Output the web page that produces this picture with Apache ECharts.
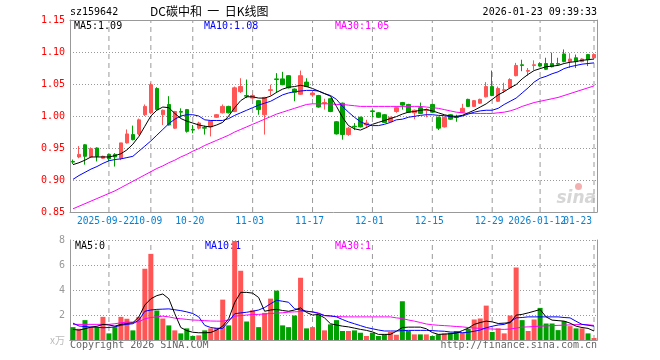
<!DOCTYPE html>
<html><head><meta charset="utf-8">
<script src="https://cdn.jsdelivr.net/npm/echarts@6/dist/echarts.min.js"></script>
<style>html,body{margin:0;padding:0;background:#fff}#c{width:660px;height:360px}</style>
</head><body><div id="c"></div>
<script>
// ---- data ----
const dates = ['2025-09-12','2025-09-15','2025-09-16','2025-09-17','2025-09-18','2025-09-19','2025-09-22','2025-09-23','2025-09-24','2025-09-25','2025-09-26','2025-09-29','2025-09-30',
'2025-10-09','2025-10-10','2025-10-13','2025-10-14','2025-10-15','2025-10-16','2025-10-17','2025-10-20','2025-10-21','2025-10-22','2025-10-23','2025-10-24','2025-10-27','2025-10-28','2025-10-29','2025-10-30','2025-10-31',
'2025-11-03','2025-11-04','2025-11-05','2025-11-06','2025-11-07','2025-11-10','2025-11-11','2025-11-12','2025-11-13','2025-11-14','2025-11-17','2025-11-18','2025-11-19','2025-11-20','2025-11-21','2025-11-24','2025-11-25','2025-11-26','2025-11-27','2025-11-28',
'2025-12-01','2025-12-02','2025-12-03','2025-12-04','2025-12-05','2025-12-08','2025-12-09','2025-12-10','2025-12-11','2025-12-12','2025-12-15','2025-12-16','2025-12-17','2025-12-18','2025-12-19','2025-12-22','2025-12-23','2025-12-24','2025-12-25','2025-12-26','2025-12-29','2025-12-30','2025-12-31',
'2026-01-05','2026-01-06','2026-01-07','2026-01-08','2026-01-09','2026-01-12','2026-01-13','2026-01-14','2026-01-15','2026-01-16','2026-01-19','2026-01-20','2026-01-21','2026-01-22','2026-01-23'];

const opens  = [0.929,0.936,0.955,0.936,0.950,0.934,0.940,0.940,0.934,0.958,0.971,0.972,1.002,1.005,1.043,1.002,1.018,0.981,1.007,1.010,0.979,0.981,0.982,0.983,0.998,1.005,1.015,1.007,1.038,1.032,
1.028,1.024,1.002,1.040,1.058,1.058,1.063,1.042,1.034,1.053,1.033,1.032,1.020,1.027,0.991,1.020,0.971,0.984,0.998,0.986,
1.008,1.005,1.002,0.991,1.007,1.021,1.018,1.005,1.013,1.009,1.018,0.998,0.983,1.002,0.999,1.006,1.026,1.015,1.020,1.030,1.046,1.023,1.040,
1.044,1.063,1.080,1.070,1.079,1.082,1.082,1.082,1.082,1.097,1.085,1.091,1.085,1.096,1.091];
const closes = [0.928,0.940,0.937,0.949,0.937,0.937,0.933,0.936,0.958,0.972,0.963,0.994,1.015,1.049,1.010,1.009,0.986,1.007,1.006,0.976,0.978,0.989,0.981,0.992,1.002,1.015,1.005,1.044,1.046,1.031,
1.032,1.010,1.029,1.041,1.057,1.049,1.044,1.037,1.063,1.046,1.036,1.014,1.021,1.007,0.972,0.971,0.981,0.983,0.983,0.989,
1.007,0.998,0.990,0.998,1.013,1.017,1.006,1.009,1.004,1.010,1.006,0.981,0.998,0.995,0.998,1.012,1.015,1.024,1.026,1.046,1.032,1.043,1.041,
1.057,1.079,1.079,1.071,1.080,1.078,1.073,1.077,1.081,1.085,1.089,1.085,1.089,1.088,1.096];
const lows   = [0.925,0.934,0.924,0.935,0.929,0.933,0.929,0.921,0.931,0.957,0.962,0.970,1.000,1.003,1.009,0.986,0.985,0.980,0.997,0.974,0.973,0.979,0.971,0.968,0.997,1.004,1.004,1.006,1.036,1.028,
1.027,1.002,0.971,1.032,1.036,1.048,1.043,1.023,1.033,1.045,1.030,1.013,1.010,1.006,0.971,0.963,0.969,0.978,0.982,0.981,
0.998,0.997,0.989,0.990,1.005,1.010,1.005,0.995,1.003,0.998,1.005,0.978,0.982,0.994,0.991,1.005,1.014,1.014,1.019,1.029,1.031,1.022,1.036,
1.043,1.062,1.070,1.063,1.072,1.077,1.072,1.076,1.079,1.084,1.075,1.075,1.084,1.078,1.090];
const highs  = [0.932,0.953,0.956,0.951,0.951,0.938,0.941,0.942,0.958,0.979,0.985,0.996,1.018,1.052,1.045,1.010,1.031,1.008,1.012,1.011,0.986,0.991,0.985,0.993,1.003,1.018,1.016,1.046,1.059,1.057,
1.034,1.025,1.030,1.049,1.067,1.069,1.064,1.043,1.071,1.059,1.039,1.033,1.027,1.028,0.992,1.021,0.983,0.989,0.999,0.994,
1.010,1.006,1.003,0.999,1.015,1.022,1.019,1.010,1.021,1.012,1.019,0.999,0.999,1.003,1.002,1.019,1.027,1.025,1.027,1.053,1.071,1.046,1.052,
1.059,1.083,1.088,1.075,1.087,1.084,1.091,1.099,1.091,1.104,1.098,1.096,1.090,1.097,1.098];

const ma5  = [0.924,0.927,0.931,0.936,0.936,0.936,0.936,0.938,0.941,0.947,0.956,0.968,0.984,1.000,1.009,1.014,1.013,1.004,0.996,0.992,0.989,0.986,0.984,0.983,0.986,0.990,1.000,1.013,1.024,1.030,
1.030,1.028,1.028,1.031,1.037,1.042,1.045,1.046,1.048,1.046,1.043,1.039,1.035,1.031,1.015,0.998,0.985,0.980,0.978,0.982,
0.987,0.990,0.993,0.996,0.999,1.003,1.006,1.007,1.009,1.010,1.008,1.005,1.002,1.000,0.9995,1.001,1.005,1.009,1.014,1.019,1.026,1.033,1.038,
1.044,1.049,1.058,1.065,1.071,1.074,1.077,1.078,1.079,1.082,1.084,1.085,1.087,1.088,1.089];
const ma10 = [0.901,0.907,0.912,0.917,0.921,0.926,0.930,0.932,0.933,0.935,0.937,0.945,0.953,0.961,0.970,0.979,0.988,0.995,1.000,1.002,1.002,1.000,0.994,0.993,0.993,0.993,0.996,1.001,1.005,1.009,
1.013,1.017,1.020,1.023,1.028,1.033,1.036,1.038,1.039,1.040,1.040,1.039,1.035,1.032,1.026,1.015,1.006,0.998,0.991,0.987,
0.985,0.985,0.987,0.990,0.994,0.995,0.998,0.9995,1.001,1.002,1.002,1.001,1.0005,0.999,0.998,1.000,1.003,1.006,1.008,1.009,1.009,1.012,1.018,
1.023,1.028,1.036,1.044,1.053,1.059,1.062,1.066,1.069,1.074,1.077,1.079,1.081,1.082,1.083];
const ma30 = [0.855,0.859,0.863,0.867,0.871,0.875,0.879,0.883,0.888,0.893,0.898,0.903,0.908,0.913,0.918,0.922,0.927,0.931,0.936,0.940,0.945,0.949,0.954,0.958,0.962,0.966,0.970,0.975,0.979,0.983,
0.987,0.991,0.995,0.999,1.003,1.006,1.009,1.012,1.015,1.018,1.019,1.019,1.019,1.019,1.018,1.018,1.017,1.016,1.015,1.015,
1.015,1.015,1.015,1.015,1.015,1.015,1.015,1.015,1.015,1.014,1.013,1.012,1.010,1.008,1.006,1.005,1.004,1.004,1.004,1.004,1.004,1.005,1.006,
1.008,1.011,1.015,1.018,1.021,1.023,1.025,1.027,1.029,1.032,1.035,1.038,1.041,1.044,1.047];

const volumes = [1.03,0.90,1.59,1.03,1.03,1.85,0.53,1.03,1.85,1.70,0.77,1.85,5.70,6.89,2.36,1.72,1.17,0.77,0.53,0.93,0.32,0.37,0.77,0.93,0.98,3.23,1.17,7.92,5.54,1.48,
2.38,1.03,2.17,3.31,3.95,1.17,1.03,1.96,4.98,0.93,1.03,2.04,0.77,1.25,1.59,0.72,0.72,0.77,0.58,0.32,
0.58,0.32,0.45,0.64,0.42,3.10,0.72,0.45,0.45,0.45,0.32,0.45,0.53,0.58,0.72,0.58,0.90,1.64,1.72,2.75,0.64,0.93,0.53,
1.96,5.80,1.59,0.72,1.64,2.57,1.32,1.32,0.79,1.51,1.11,0.93,0.93,0.53,0.16];
const volMa5  = [0.85,0.79,0.90,1.03,1.10,1.25,1.20,1.11,1.25,1.32,1.38,1.85,2.80,3.30,3.55,3.68,3.30,2.10,1.00,0.75,0.62,0.58,0.58,0.60,0.80,1.11,1.70,3.00,3.81,3.81,
3.75,3.40,2.30,2.40,2.45,2.36,2.30,2.40,2.57,2.20,2.00,2.04,1.77,1.30,1.20,1.11,1.05,0.95,0.85,0.77,
0.65,0.45,0.45,0.45,0.70,1.00,1.03,1.03,1.03,0.90,0.60,0.45,0.47,0.50,0.55,0.75,0.95,1.25,1.40,1.51,1.45,1.32,1.35,
1.38,1.99,2.05,2.17,2.30,2.44,1.85,1.59,1.55,1.51,1.35,1.11,1.00,0.93,0.72];
const volMa10 = [1.35,1.12,1.08,1.04,1.02,0.98,1.00,1.05,1.18,1.25,1.30,1.60,2.30,2.40,2.45,2.47,2.49,2.42,2.35,2.25,2.12,1.85,1.17,1.00,0.93,0.93,1.50,2.10,2.17,2.22,
2.30,2.40,2.60,2.90,3.18,3.10,3.02,2.50,2.40,2.30,2.25,2.12,1.96,1.93,1.85,1.64,1.45,1.30,1.15,1.00,
0.90,0.80,0.72,0.72,0.72,0.75,0.77,0.77,0.77,0.77,0.75,0.72,0.70,0.64,0.62,0.58,0.62,0.70,0.80,0.98,1.10,1.20,1.25,
1.45,1.77,1.80,1.85,1.85,1.85,1.85,1.85,1.85,1.80,1.77,1.50,1.25,1.18,1.11];
const volMa30 = [1.25,1.25,1.25,1.25,1.25,1.25,1.25,1.30,1.38,1.43,1.43,1.45,1.70,1.80,1.85,1.91,1.85,1.75,1.70,1.65,1.60,1.58,1.55,1.52,1.51,1.51,1.60,1.91,1.95,2.00,
2.04,2.05,2.08,2.12,2.15,2.18,2.23,2.25,2.28,2.30,2.25,2.17,1.95,1.91,1.88,1.86,1.85,1.85,1.85,1.85,
1.85,1.85,1.85,1.85,1.77,1.72,1.60,1.51,1.40,1.28,1.22,1.18,1.15,1.12,1.08,1.05,1.00,0.96,0.93,0.90,0.88,0.86,0.85,
0.88,0.95,1.03,1.05,1.08,1.11,1.13,1.15,1.17,1.19,1.21,1.23,1.25,1.22,1.17];

const labelDates = ['2025-09-22','2025-10-09','2025-10-20','2025-11-03','2025-11-17','2025-12-01','2025-12-15','2025-12-29','2026-01-12','2026-01-23'];
const labelTexts = ['2025-09-22','10-09','10-20','11-03','11-17','12-01','12-15','12-29','2026-01-12','01-23'];
const priceTicks = {min: 0.85, max: 1.15, step: 0.05};
const volTicks = {min: 0, max: 8, step: 2};

const titleCode = 'sz159642';
const titleName = 'DC碳中和  一  日K线图';
const timeStamp = '2026-01-23 09:39:33';
const maLegend = ['MA5:1.09', 'MA10:1.08', 'MA30:1.05'];
const volLegend = ['MA5:0', 'MA10:1', 'MA30:1'];
const copyrightText = 'Copyright 2026 SINA.COM';
const urlText = 'http://finance.sina.com.cn';
const volUnit = 'x万';

// ---- style ----
const UP = '#ff5555', DOWN = '#00a000';
const C5 = '#000000', C10 = '#0000ff', C30 = '#ff00ff';
const MONO = 'DejaVu Sans Mono';
const FRAME = '#999999';
const GUIDE = '#9a9a9a';

const labelPos = (idx) => labelDates.indexOf(dates[idx]);
const inSet = (idx, parity) => { const k = labelPos(idx); return k >= 0 && k % 2 === parity; };
const hSplit = () => ({show: true, lineStyle: {color: '#999999', type: [1, 2], width: 1}});
const frameLine = () => ({show: true, lineStyle: {color: FRAME, width: 1}});
const labelFont = {color: '#0a80d0', fontFamily: MONO, fontSize: 9.6};
const xLabel = (parity) => Object.assign({
  interval: (idx) => inSet(idx, parity), margin: 4, showMinLabel: parity === 0 ? true : null,
  showMaxLabel: parity === 1 ? true : null, hideOverlap: false, alignMaxLabel: parity === 1 ? 'right' : null,
  formatter: (v) => { const k = labelDates.indexOf(v); const t = labelTexts[k];
    return k === labelDates.length - 1 ? '{e|' + t + '}' : '{n|' + t + '}'; },
  rich: {n: Object.assign({padding: [0, 6, 0, 0]}, labelFont), e: Object.assign({padding: [0, 2, 0, 0]}, labelFont)}
}, labelFont);

const chart = echarts.init(document.getElementById('c'), null, {renderer: 'canvas'});
const kdata = dates.map((d, i) => [opens[i], closes[i], lows[i], highs[i]]);
const lineS = (name, data, color, x, y) => ({
  name, type: 'line', data, xAxisIndex: x, yAxisIndex: y, symbol: 'none', silent: true,
  lineStyle: {color, width: 1}, itemStyle: {color}, z: 3
});
// dashed vertical date guides: one two-point line series per labelled date
const guideSeries = (x, y, ticks) => labelDates.map(d => ({
  type: 'line', xAxisIndex: x, yAxisIndex: y, symbol: 'none', silent: true, z: 1,
  data: [[d, ticks.min], [d, ticks.max]],
  lineStyle: {color: GUIDE, width: 1, type: [5, 4]}
}));

const option = {
  animation: false,
  backgroundColor: '#ffffff',
  grid: [
    {left: 70, right: 63, top: 20, height: 192},
    {left: 70, right: 63, top: 240, height: 100}
  ],
  xAxis: [
    {type: 'category', data: dates, gridIndex: 0, axisLine: frameLine(), axisTick: {show: false},
     splitLine: {show: false}, axisLabel: xLabel(0)},
    {type: 'category', data: dates, gridIndex: 0, position: 'top', axisLine: frameLine(), axisTick: {show: false}, axisLabel: {show: false}, splitLine: {show: false}},
    {type: 'category', data: dates, gridIndex: 1, axisLine: frameLine(), axisTick: {show: false}, axisLabel: {show: false}, splitLine: {show: false}},
    {type: 'category', data: dates, gridIndex: 1, position: 'top', axisLine: frameLine(), axisTick: {show: false}, axisLabel: {show: false}, splitLine: {show: false}},
    {type: 'category', data: dates, gridIndex: 0, position: 'bottom', axisLine: {show: false}, axisTick: {show: false},
     splitLine: {show: false}, axisLabel: xLabel(1)}
  ],
  yAxis: [
    {type: 'value', gridIndex: 0, min: priceTicks.min, max: priceTicks.max, interval: priceTicks.step,
     axisLine: frameLine(), axisTick: {show: false}, splitLine: hSplit(),
     axisLabel: {margin: 5, color: '#ff0000', fontFamily: MONO, fontSize: 10, formatter: v => v.toFixed(2)}},
    {type: 'value', gridIndex: 0, position: 'right', min: priceTicks.min, max: priceTicks.max, interval: priceTicks.step,
     axisLine: frameLine(), axisTick: {show: false}, splitLine: {show: false}, axisLabel: {show: false}},
    {type: 'value', gridIndex: 1, min: volTicks.min, max: volTicks.max, interval: volTicks.step,
     axisLine: frameLine(), axisTick: {show: false}, splitLine: hSplit(),
     axisLabel: {margin: 5, color: '#999999', fontFamily: MONO, fontSize: 10,
       formatter: v => v === 0 ? '{u|' + volUnit + '}' : String(v),
       rich: {u: {color: '#bbbbbb', fontSize: 10, fontFamily: 'Noto Sans CJK SC'}}}},
    {type: 'value', gridIndex: 1, position: 'right', min: volTicks.min, max: volTicks.max, interval: volTicks.step,
     axisLine: frameLine(), axisTick: {show: false}, splitLine: {show: false}, axisLabel: {show: false}}
  ],
  series: [
    ...guideSeries(0, 0, priceTicks),
    ...guideSeries(2, 2, volTicks),
    {type: 'candlestick', name: 'K', data: kdata, xAxisIndex: 0, yAxisIndex: 0, barWidth: 4, silent: true,
     itemStyle: {color: UP, color0: DOWN, borderColor: UP, borderColor0: DOWN, borderWidth: 1}, z: 2},
    lineS('MA30', ma30, C30, 0, 0),
    lineS('MA10', ma10, C10, 0, 0),
    lineS('MA5', ma5, C5, 0, 0),
    {type: 'bar', name: 'VOL', data: volumes, xAxisIndex: 2, yAxisIndex: 2, barWidth: 5, silent: true,
     itemStyle: {color: p => closes[p.dataIndex] >= opens[p.dataIndex] ? UP : DOWN}, z: 2},
    lineS('VMA30', volMa30, C30, 2, 2),
    lineS('VMA10', volMa10, C10, 2, 2),
    lineS('VMA5', volMa5, C5, 2, 2)
  ],
  graphic: [
    {type: 'text', left: 70, top: 7, style: {text: titleCode, fill: '#000', font: '10px "' + MONO + '"'}},
    {type: 'text', left: 150, top: 5, style: {text: titleName, fill: '#000', font: '12px "Noto Sans CJK SC"'}},
    {type: 'text', right: 63, top: 7, style: {text: timeStamp, fill: '#000', font: '10px "' + MONO + '"'}},
    {type: 'text', left: 74, top: 21, style: {text: maLegend[0], fill: C5, font: '10px "' + MONO + '"'}},
    {type: 'text', left: 204, top: 21, style: {text: maLegend[1], fill: C10, font: '10px "' + MONO + '"'}},
    {type: 'text', left: 335, top: 21, style: {text: maLegend[2], fill: C30, font: '10px "' + MONO + '"'}},
    {type: 'text', left: 75, top: 241, style: {text: volLegend[0], fill: C5, font: '10px "' + MONO + '"'}},
    {type: 'text', left: 205, top: 241, style: {text: volLegend[1], fill: C10, font: '10px "' + MONO + '"'}},
    {type: 'text', left: 335, top: 241, style: {text: volLegend[2], fill: C30, font: '10px "' + MONO + '"'}},
    {type: 'text', left: 70, top: 340, style: {text: copyrightText, fill: '#666', font: '10px "' + MONO + '"'}},
    {type: 'text', right: 63, top: 340, style: {text: urlText, fill: '#666', font: '10px "' + MONO + '"'}},
    {type: 'text', right: 64, top: 190, z: 0, style: {text: 'sina', fill: '#d6d6d6', font: 'italic bold 17px "DejaVu Sans"'}},
    {type: 'circle', right: 78, top: 183, z: 0, shape: {r: 3.5}, style: {fill: '#f3b0b0'}}
  ]
};
chart.setOption(option);
</script></body></html>
